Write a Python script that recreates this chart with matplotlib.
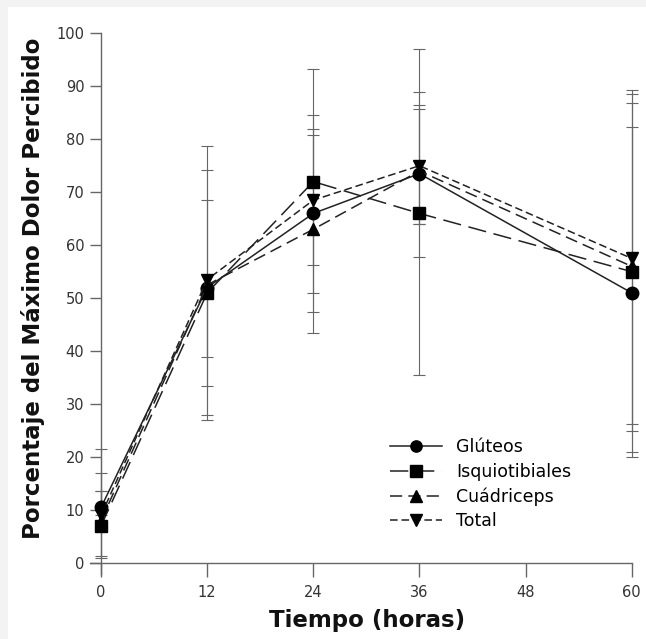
"""Porcentaje del máximo dolor percibido por grupo muscular a lo largo de 60 h."""
import matplotlib
matplotlib.use("Agg")
import matplotlib.pyplot as plt
from matplotlib.patches import Rectangle

hours = [0, 12, 24, 36, 60]
labels = ["Glúteos", "Isquiotibiales", "Cuádriceps", "Total"]

gluteos = [10.5, 52.0, 66.0, 73.5, 51.0]
gluteos_hi = [21.5, 74.2, 82.0, 89.0, 82.3]
gluteos_lo = [1.3, 33.5, 47.3, 35.5, 20.0]

isquio = [7.0, 51.0, 72.0, 66.0, 55.0]
isquio_hi = [13.5, 51.0, 93.2, 85.8, 86.8]
isquio_lo = [1.0, 27.0, 51.0, 64.0, 21.0]

cuadriceps = [8.0, 52.5, 63.0, 74.0, 56.0]
cuadriceps_hi = [13.5, 68.5, 80.8, 86.5, 88.5]
cuadriceps_lo = [8.0, 38.8, 43.5, 64.0, 26.3]

total = [9.0, 53.5, 68.5, 75.0, 57.5]
total_hi = [17.0, 78.8, 84.5, 97.0, 89.3]
total_lo = [9.0, 28.0, 56.3, 57.8, 25.0]

LINE_COLOR = "#222222"
ERR_COLOR = "#666666"

fig = plt.figure(figsize=(6.46, 6.39), dpi=100, facecolor="#f3f3f3")
fig.patches.append(Rectangle((8 / 646, 0), 1, 1 - 7 / 639, transform=fig.transFigure,
                             facecolor="white", edgecolor="none", zorder=-10))
ax = fig.add_axes([90 / 646, 1 - 573.6 / 639, (631.7 - 90) / 646, (573.6 - 33.3) / 639])
ax.set_zorder(2)
ax.set_facecolor("none")

series = [
    (gluteos, gluteos_hi, gluteos_lo, "o", "-"),
    (isquio, isquio_hi, isquio_lo, "s", (0, (12, 5))),
    (cuadriceps, cuadriceps_hi, cuadriceps_lo, "^", (0, (8, 4))),
    (total, total_hi, total_lo, "v", (0, (5, 2.5))),
]

for (mean, hi, lo, marker, ls), label in zip(series, labels):
    yerr = [[m - l for m, l in zip(mean, lo)], [h - m for m, h in zip(mean, hi)]]
    eb = ax.errorbar(hours, mean, yerr=yerr, fmt="none", ecolor=ERR_COLOR, elinewidth=0.8,
                     capsize=4, capthick=0.8, zorder=2)
    for art in eb.lines[1] + eb.lines[2]:
        art.set_clip_on(False)
    ax.plot(hours, mean, linestyle=ls, color=LINE_COLOR, linewidth=1.1, marker=marker,
            markersize=9, markerfacecolor="black", markeredgecolor="black", label=label,
            zorder=3, clip_on=False)

ax.set_xlim(-1.25, 60)
ax.set_ylim(-2, 100)
ax.spines["left"].set_position(("data", 0))
ax.spines["bottom"].set_position(("data", 0))
ax.spines["right"].set_visible(False)
ax.spines["top"].set_visible(False)
for sp in ("left", "bottom"):
    ax.spines[sp].set_color("#666666")
    ax.spines[sp].set_linewidth(1.0)
ax.spines["bottom"].set_bounds(-1.25, 60)
ax.spines["left"].set_bounds(-2, 100)

ax.set_xticks([0, 12, 24, 36, 48, 60])
ax.set_yticks(range(0, 101, 10))
ax.tick_params(direction="out", length=10, width=1.0, color="#666666",
               labelsize=10.5, labelcolor="#333333")
ax.tick_params(axis="x", pad=6)
ax.tick_params(axis="y", length=8, pad=4)

fig.text(33 / 646, 1 - 288 / 639, "Porcentaje del Máximo Dolor Percibido", rotation=90,
         ha="center", va="center", fontsize=16.5, fontweight="bold", color="#111111")
fig.text(367 / 646, 1 - 620 / 639, "Tiempo (horas)", ha="center", va="center",
         fontsize=16.5, fontweight="bold", color="#111111")

ax.legend(loc="upper left", bbox_to_anchor=(378 / 646, 1 - 426 / 639),
          bbox_transform=fig.transFigure, frameon=False, fontsize=12.5,
          handlelength=3.0, handletextpad=0.8, labelspacing=0.38, markerscale=0.9,
          borderpad=0.2)

fig.savefig("out.png", dpi=100, facecolor=fig.get_facecolor())
